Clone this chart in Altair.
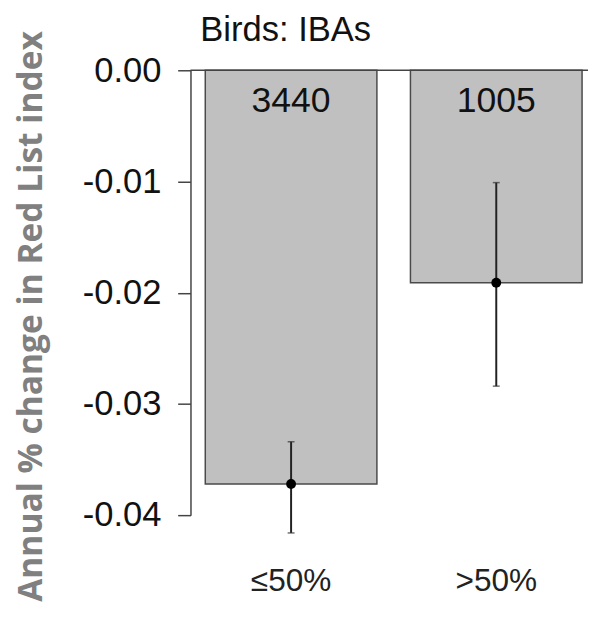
import altair as alt
import pandas as pd

categories = ["≤50%", ">50%"]
means = [-0.0372, -0.0191]
lower = [-0.0416, -0.0284]
upper = [-0.0334, -0.0101]
counts = ["3440", "1005"]
y_ticks = [0.0, -0.01, -0.02, -0.03, -0.04]
title_text = ["Birds: IBAs"]

df = pd.DataFrame({"cat": categories, "mean": means, "lo": lower, "hi": upper, "n": counts})

W, H = 403, 451
FONT = "Liberation Sans"

x_enc = alt.X(
    "cat:N", sort=categories,
    scale=alt.Scale(paddingInner=0.1635, paddingOuter=0.0505, align=0.714),
    axis=None,
)
y_scale = alt.Scale(domain=[-0.04, 0], nice=False, zero=False)
y_axis = alt.Axis(
    values=y_ticks,
    labelExpr="replace(format(datum.value, '.2f'), '\u2212', '-')",
    labelFontSize=35, labelFont=FONT, labelColor="#111", labelPadding=17,
    tickSize=13, tickColor="#444", tickWidth=1.5,
    domainColor="#444", domainWidth=1.5, grid=False,
    title="Annual % change in Red List index",
    titleFont="Open Sans", titleFontWeight="bold", titleFontSize=34,
    titleColor="#808080", titleX=-151, titleY=249, titleAngle=270,
    titleAlign="center", titleBaseline="alphabetic",
)

base = alt.Chart(df)

bars = base.mark_bar(fill="#c0c0c0", stroke="#4a4a4a", strokeWidth=1.5).encode(
    x=x_enc,
    y=alt.Y("mean:Q", scale=y_scale, axis=y_axis),
    y2=alt.datum(0),
)

zero_line = alt.Chart(pd.DataFrame({"z": [0.0]})).mark_rule(color="#444", strokeWidth=1.5).encode(
    y=alt.Y("z:Q", scale=y_scale, axis=y_axis), x=alt.value(0), x2=alt.value(W)
)

err = base.mark_rule(color="#222", strokeWidth=2).encode(
    x=x_enc, y=alt.Y("lo:Q", scale=y_scale, axis=y_axis), y2="hi:Q"
)
cap_lo = base.mark_tick(orient="horizontal", size=7, thickness=1.5, color="#333").encode(
    x=x_enc, y=alt.Y("lo:Q", scale=y_scale, axis=y_axis)
)
cap_hi = base.mark_tick(orient="horizontal", size=7, thickness=1.5, color="#333").encode(
    x=x_enc, y=alt.Y("hi:Q", scale=y_scale, axis=y_axis)
)
pts = base.mark_point(filled=True, size=100, color="black", opacity=1).encode(
    x=x_enc, y=alt.Y("mean:Q", scale=y_scale, axis=y_axis)
)
labels = base.mark_text(fontSize=36, font=FONT, color="#111", baseline="middle").encode(
    x=x_enc, y=alt.value(31), text="n:N"
)
cat_labels = base.mark_text(fontSize=32, font=FONT, color="#222", baseline="middle").encode(
    x=x_enc, y=alt.value(518), text="cat:N"
)
title = alt.Chart(pd.DataFrame({"t": title_text})).mark_text(
    fontSize=35, font=FONT, color="#111", align="left", baseline="alphabetic"
).encode(x=alt.value(10), y=alt.value(-30), text="t:N")

chart = alt.layer(bars, zero_line, err, cap_lo, cap_hi, pts, labels, cat_labels, title).properties(
    width=W, height=H,
    background="white",
    autosize=alt.AutoSizeParams(type="none"),
    padding={"left": 185, "top": 59, "right": 0, "bottom": 91},
).configure_view(stroke=None).configure_axis(grid=False)

chart.save("out.html", embed_options={"renderer": "svg", "actions": False})
